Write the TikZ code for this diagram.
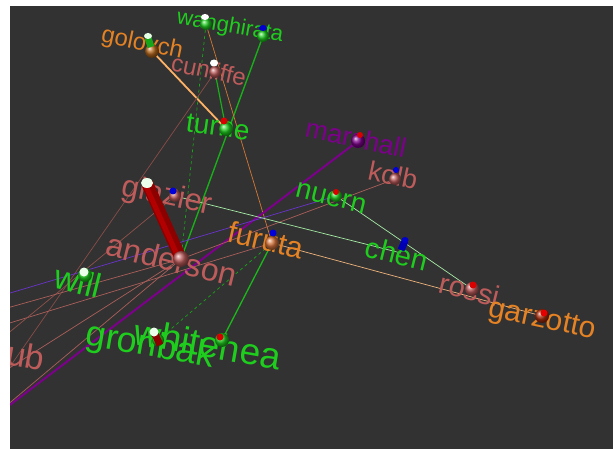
\documentclass[tikz,border=0pt]{standalone}
\usepackage{fontspec}
\setmainfont{Liberation Sans}
\usetikzlibrary{calc}
\definecolor{bg}{RGB}{50,50,50}
\definecolor{lgreen}{RGB}{30,205,30}
\definecolor{lpink}{RGB}{190,92,92}
\definecolor{lorange}{RGB}{228,130,36}
\definecolor{lpurple}{RGB}{125,0,140}
\definecolor{edgepink}{RGB}{170,95,90}
\begin{document}
\begin{tikzpicture}[x=1pt,y=-1pt,
  lbl/.style={inner sep=0pt,anchor=center},
  gtxt/.style={lbl,text=lgreen},
  ptxt/.style={lbl,text=lpink},
  otxt/.style={lbl,text=lorange},
  utxt/.style={lbl,text=lpurple},
  thinedge/.style={line width=0.7pt}]
\useasboundingbox (0,0) rectangle (613,449);
\fill[white] (0,0) rectangle (613,449);
\fill[bg] (10,6) rectangle (613,449);
\begin{scope}
\clip (10,6) rectangle (613,449);
% vertex positions
\coordinate (wang) at (206,24);
\coordinate (hirata) at (263,36);
\coordinate (golovch) at (152,51);
\coordinate (cunliffe) at (215,72);
\coordinate (turne) at (226,129);
\coordinate (marshall) at (358,141);
\coordinate (kolb) at (395,179);
\coordinate (nuern) at (336,196);
\coordinate (chen) at (401,253);
\coordinate (rossi) at (472,289);
\coordinate (garzotto) at (542,316);
\coordinate (furuta) at (272,243);
\coordinate (glazier) at (175,196);
\coordinate (anderson) at (181,259);
\coordinate (will) at (85,275);
\coordinate (gronbak) at (158,340);
\coordinate (whitehea) at (222,340);
\coordinate (offa) at (-10,420);
\coordinate (offb) at (-10,299);
\coordinate (ub) at (0,374);
\coordinate (offc) at (-10,329);
\coordinate (offd) at (0,340);
\coordinate (offe) at (0,310);
\coordinate (offf) at (0,411);
\coordinate (offcun) at (0,381);
\coordinate (cyltop) at (147,183);
\coordinate (cylhi) at (145,184);
% edges
\draw[line width=1.8pt,color=orange!60!white] (golovch) -- (turne);
\draw[line width=1.2pt,color=lgreen!85!black] (cunliffe) -- (turne);
\draw[line width=1.4pt,color=lgreen!85!black] (hirata) -- (anderson);
\draw[thinedge,color=lgreen!80!black,dashed] (wang) -- (anderson);
\draw[thinedge,color=lorange!70!edgepink] (wang) -- (furuta);
\draw[thinedge,color=edgepink!80!black] (cunliffe) -- (offcun);
\draw[line width=2pt,color=lpurple] (marshall) -- (offa);
\draw[thinedge,color=blue!45!lpurple!80!white] (nuern) -- (offb);
\draw[thinedge,color=edgepink] (kolb) -- (anderson);
\draw[thinedge,color=lgreen!40!white] (nuern) -- (rossi);
\draw[thinedge,color=lgreen!40!white] (glazier) -- (chen);
\draw[thinedge,color=lorange!60!white] (furuta) -- (garzotto);
\draw[line width=1.3pt,color=lgreen!90!black] (whitehea) -- (furuta);
\draw[thinedge,color=lgreen!80!black,dashed] (gronbak) -- (furuta);
\draw[thinedge,color=edgepink] (furuta) -- (offc);
\draw[thinedge,color=edgepink!85!black] (glazier) -- (offd);
\draw[thinedge,color=edgepink] (anderson) -- (ub);
\draw[thinedge,color=edgepink] (anderson) -- (offe);
\draw[thinedge,color=edgepink] (anderson) -- (offf);
% labels
\node[gtxt,rotate=-10] (twang) at (230,27) {\fontsize{22}{22}\selectfont wanghirata};
\node[otxt,rotate=-12] (tgolovch) at (142,44) {\fontsize{24}{24}\selectfont golovch};
\node[ptxt,rotate=-12] (tcunliffe) at (209,70) {\fontsize{24}{24}\selectfont cunliffe};
\node[gtxt,rotate=-8] (tturne) at (218,127) {\fontsize{28}{28}\selectfont turne};
\node[utxt,rotate=-12] (tmarshall) at (356,138) {\fontsize{27}{27}\selectfont marshall};
\node[ptxt,rotate=-12] (tkolb) at (393,175) {\fontsize{27}{27}\selectfont kolb};
\node[gtxt,rotate=-14] (tnuern) at (331,198) {\fontsize{28}{28}\selectfont nuern};
\node[gtxt,rotate=-14] (tchen) at (397,254) {\fontsize{29}{29}\selectfont chen};
\node[ptxt,rotate=-14] (trossi) at (470,290) {\fontsize{29}{29}\selectfont rossi};
\node[otxt,rotate=-12] (tgarzotto) at (542,321) {\fontsize{30}{30}\selectfont garzotto};
\node[otxt,rotate=-13] (tfuruta) at (266,240) {\fontsize{30}{30}\selectfont furuta};
\node[ptxt,rotate=-12] (tglazier) at (167,197) {\fontsize{31}{31}\selectfont glazier};
\node[ptxt,rotate=-14] (tanderson) at (172,260) {\fontsize{32}{32}\selectfont anderson};
\node[gtxt,rotate=-14] (twill) at (78,281) {\fontsize{34}{34}\selectfont will};
\node[ptxt,rotate=-10] (tub) at (26,356) {\fontsize{34}{34}\selectfont ub};
\node[gtxt,rotate=-10] (tgronbak) at (150,347) {\fontsize{36}{36}\selectfont gronbak};
\node[gtxt,rotate=-10] (twhitehea) at (208,344) {\fontsize{37}{37}\selectfont whitehea};
% big cylinder
\draw[line width=12pt,color=red!55!black] (anderson) -- (cyltop);
\draw[line width=5pt,color=red!70!black] ($(anderson)+(-2,0)$) -- (cylhi);
% spheres
\shade[ball color=lgreen] (wang) circle (6);
\shade[ball color=lgreen] (hirata) circle (6);
\shade[ball color=lorange!80!black] (golovch) circle (7);
\shade[ball color=lpink] (cunliffe) circle (6);
\shade[ball color=lgreen] (turne) circle (7);
\shade[ball color=lpurple] (marshall) circle (7);
\shade[ball color=lpink] (kolb) circle (6);
\shade[ball color=lgreen] (nuern) circle (6);
\shade[ball color=lpink] (rossi) circle (7);
\shade[ball color=lorange!50!red!70!black] (garzotto) circle (7);
\shade[ball color=lorange!60!lpink] (furuta) circle (7);
\shade[ball color=lpink] (glazier) circle (6);
\shade[ball color=lpink] (anderson) circle (8);
\shade[ball color=lgreen] (will) circle (7);
\shade[ball color=lgreen] (gronbak) circle (6);
\shade[ball color=lgreen] (whitehea) circle (7);
% caps and small cylinders
\fill[white] (205,17) ellipse (4 and 3);
\fill[blue!80!black] (263,28) ellipse (4 and 3);
\draw[line width=7pt,color=lgreen!80!black] (151,47) -- (148,38);
\fill[white!90!green] (148,36) ellipse (4 and 3);
\fill[white] (214,63) ellipse (4 and 3.5);
\fill[red!85!black] (224,121) circle (3.5);
\fill[red!85!black] (360,135) circle (3);
\fill[blue!85!black] (396,170) circle (3);
\fill[red!85!black] (336,192) circle (3);
\draw[line width=7pt,color=blue!70!black] (401,250) -- (405,241);
\fill[blue!80!black] (405,240) ellipse (3.5 and 3);
\fill[red!85!black] (473,285) circle (3.5);
\fill[red!90!black] (544,313) circle (3.5);
\fill[blue!85!black] (273,233) circle (3.5);
\fill[blue!85!black] (173,191) circle (3.5);
\fill[white!92!green] (cyltop) ellipse (6 and 5);
\fill[white!92!green] (84,272) circle (4.5);
\draw[line width=7pt,color=red!55!black] (160,345) -- (155,334);
\fill[white!92!green] (154,332) circle (4.5);
\fill[red!85!black] (220,337) circle (3.5);
\end{scope}
\end{tikzpicture}
\end{document}
